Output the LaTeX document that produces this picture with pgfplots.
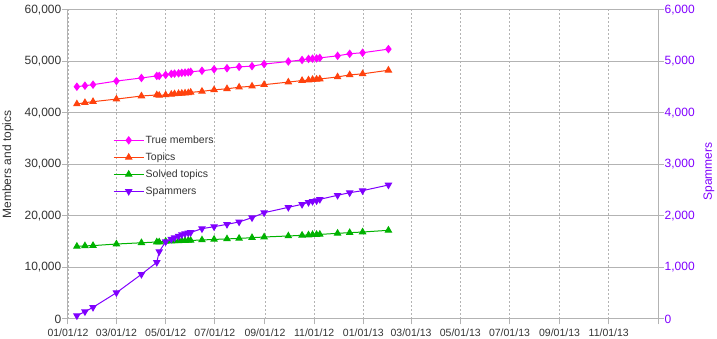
\documentclass[border=0pt]{standalone}
\usepackage{fontspec}
\setmainfont{Liberation Sans}
\usepackage{pgfplots}
\usepackage{pgfplotstable}
\pgfplotsset{compat=1.18}
\definecolor{cmem}{HTML}{FF00FF}
\definecolor{ctop}{HTML}{FF420E}
\definecolor{csol}{HTML}{00B200}
\definecolor{cspam}{HTML}{8000FF}
\definecolor{cgrid}{HTML}{B3B3B3}
\definecolor{ctext}{HTML}{333333}

\pgfplotstableread{
d mem top sol spam
11 45100 41750 14100 65
21 45300 42000 14200 142
31 45500 42200 14250 227
60 46200 42700 14560 510
91 46800 43300 14800 868
110 47200 43500 14950 1100
113 47200 43400 14950 1310
121 47400 43500 15080 1500
128 47600 43600 15100 1550
132 47650 43700 15150 1580
137 47700 43750 15150 1610
141 47800 43800 15200 1640
145 47850 43850 15200 1660
149 47900 43900 15250 1670
152 48000 44000 15250 1680
166 48200 44200 15340 1754
181 48500 44500 15450 1792
197 48700 44700 15550 1838
212 48960 45000 15650 1885
228 49100 45200 15790 1967
243 49500 45500 15920 2064
273 50000 46000 16120 2168
290 50300 46300 16250 2227
298 50500 46400 16310 2265
303 50550 46500 16380 2285
308 50600 46550 16400 2297
312 50700 46600 16420 2324
334 51100 47000 16640 2402
349 51500 47400 16760 2453
365 51700 47600 16890 2492
397 52400 48300 17220 2602
}\data

\pgfplotsset{
  common/.style={
    at={(0pt,0pt)}, anchor=south west, scale only axis,
    width=590pt, height=309pt,
    xmin=0, xmax=731,
    tick align=outside, major tick length=5.5pt,
    axis line style={cgrid, line width=1pt},
    tick style={cgrid, line width=1pt},
    /pgf/number format/assume math mode=true,
    /pgf/number format/1000 sep={,},
    scaled y ticks=false,
  },
  ser/.style={line width=1pt, mark size=3.5pt},
}

\begin{document}
\begin{tikzpicture}
\useasboundingbox (-68pt,-20pt) rectangle (649pt,319pt);
\begin{axis}[common,
  ymin=0, ymax=60000,
  xtick={0,60,121,182,244,305,366,425,486,547,609,670,731},
  xticklabels={01/01/12,03/01/12,05/01/12,07/01/12,09/01/12,11/01/12,01/01/13,03/01/13,05/01/13,07/01/13,09/01/13,11/01/13,{}},
  ytick={0,10000,...,60000},
  xtick pos=bottom, ytick pos=left,
  xmajorgrids, ymajorgrids,
  x grid style={cgrid, dash pattern=on 2pt off 2pt, line width=0.8pt},
  y grid style={cgrid, line width=1pt},
  xticklabel style={font=\fontsize{10.5}{12}\selectfont, text=ctext, yshift=-1pt},
  yticklabel style={font=\fontsize{12}{14}\selectfont, text=ctext, inner sep=1pt},
  ylabel={Members and topics},
  ylabel style={font=\fontsize{12}{14}\selectfont, text=ctext, at={(axis description cs:0,0.5)}, anchor=center, yshift=60pt},
  legend style={draw=none, fill=none, at={(0.0763,0.595)}, anchor=north west,
    inner sep=0pt, font=\fontsize{10.5}{12}\selectfont, text=ctext,
    nodes={inner sep=0pt, text height=8pt, text depth=2pt},
    row sep=7pt, column sep=1.5pt},
  legend cell align=left,
  legend image code/.code={\draw[mark repeat=2,mark phase=2] plot coordinates {(0pt,0pt)(15pt,0pt)(30pt,0pt)};},
]
\addplot[ser, color=cmem, mark=diamond*] table[x=d, y=mem] {\data};
\addlegendentry{True members}
\addplot[ser, color=ctop, mark=triangle*] table[x=d, y=top] {\data};
\addlegendentry{Topics}
\addplot[ser, color=csol, mark=triangle*] table[x=d, y=sol] {\data};
\addlegendentry{Solved topics}
\addlegendimage{ser, color=cspam, mark=triangle*, mark options={rotate=180}}
\addlegendentry{Spammers}
\end{axis}
\begin{axis}[common,
  ymin=0, ymax=6000,
  axis x line=none, axis y line*=right,
  ytick={0,1000,...,6000},
  yticklabel style={font=\fontsize{12}{14}\selectfont, text=cspam, inner sep=1pt},
  ylabel={Spammers},
  ylabel style={font=\fontsize{12}{14}\selectfont, text=cspam, at={(axis description cs:1,0.5)}, anchor=center, yshift=-51pt, xshift=-7pt},
]
\addplot[ser, color=cspam, mark=triangle*, mark options={rotate=180}] table[x=d, y=spam] {\data};
\end{axis}
\end{tikzpicture}
\end{document}
